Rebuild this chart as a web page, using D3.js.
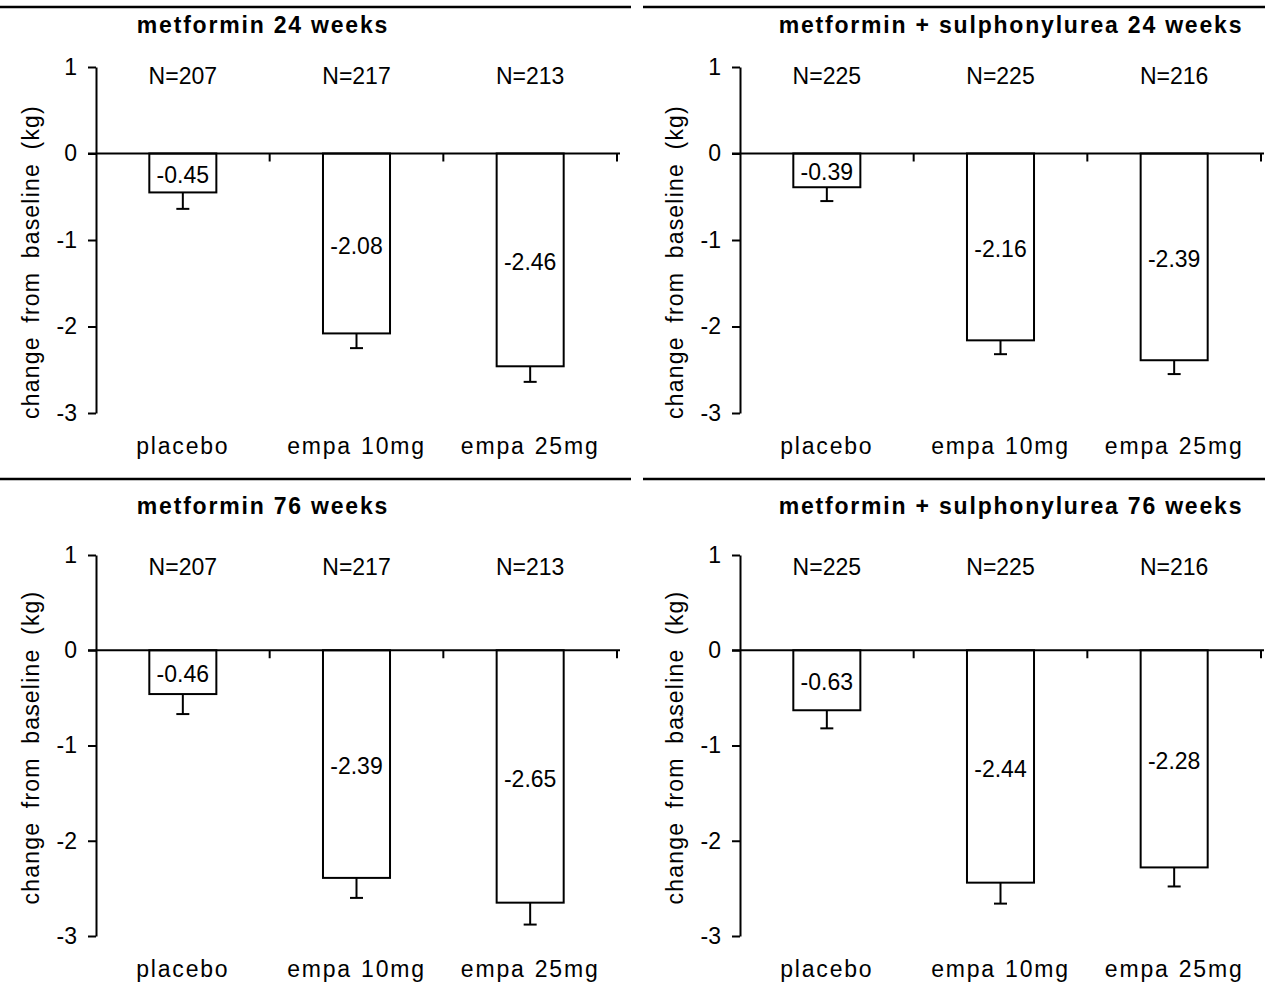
<!DOCTYPE html>
<html>
<head>
<meta charset="utf-8">
<script src="https://cdn.jsdelivr.net/npm/d3@7/dist/d3.min.js"></script>
<style>
  html, body { margin: 0; padding: 0; background: #fff; }
  svg { display: block; font-family: Arial, "Liberation Sans", sans-serif; }
</style>
</head>
<body>
<svg id="chart" width="1271" height="989"></svg>
<script>
// Weight change from baseline (kg), adjusted mean and standard error
const categories = ["placebo", "empa 10mg", "empa 25mg"];
const yTicks = [1, 0, -1, -2, -3];
const titles = [
  "metformin 24 weeks",
  "metformin + sulphonylurea 24 weeks",
  "metformin 76 weeks",
  "metformin + sulphonylurea 76 weeks"
];
const nMetformin = [207, 217, 213];
const nMetforminSu = [225, 225, 216];

const meanMet24 = [-0.45, -2.08, -2.46];
const seMet24 = [0.19, 0.17, 0.18];
const meanSu24 = [-0.39, -2.16, -2.39];
const seSu24 = [0.16, 0.16, 0.16];
const meanMet76 = [-0.46, -2.39, -2.65];
const seMet76 = [0.21, 0.21, 0.23];
const meanSu76 = [-0.63, -2.44, -2.28];
const seSu76 = [0.19, 0.22, 0.20];

const yLabel = "change from baseline (kg)";

// panel geometry
const panels = [
  { title: titles[0], n: nMetformin, mean: meanMet24, se: seMet24,
    axisX: 96, yTop: 67, yBottom: 413, titleX: 263, titleY: 33, nY: 84, labelY: 454,
    ruleY: 7, ruleX0: 0, ruleX1: 631, yLabelX: 33, yLabelShift: 22, star: false },
  { title: titles[1], n: nMetforminSu, mean: meanSu24, se: seSu24,
    axisX: 740, yTop: 67, yBottom: 413, titleX: 1011, titleY: 33, nY: 84, labelY: 454,
    ruleY: 7, ruleX0: 643, ruleX1: 1265, yLabelX: 677, yLabelShift: 22, star: false },
  { title: titles[2], n: nMetformin, mean: meanMet76, se: seMet76,
    axisX: 96, yTop: 555, yBottom: 936, titleX: 263, titleY: 514, nY: 575, labelY: 977,
    ruleY: 479, ruleX0: 0, ruleX1: 631, yLabelX: 33, yLabelShift: 2, star: true },
  { title: titles[3], n: nMetforminSu, mean: meanSu76, se: seSu76,
    axisX: 740, yTop: 555, yBottom: 936, titleX: 1011, titleY: 514, nY: 575, labelY: 977,
    ruleY: 479, ruleX0: 643, ruleX1: 1265, yLabelX: 677, yLabelShift: 2, star: true }
];

const svg = d3.select("#chart");
const plotWidth = 521;
const fontSize = 23;

panels.forEach(p => {
  const g = svg.append("g");

  const x = d3.scaleBand()
    .domain(categories)
    .range([p.axisX, p.axisX + plotWidth])
    .paddingInner(0.614)
    .paddingOuter(0.307);

  const y = d3.scaleLinear()
    .domain([1, -3])
    .range([p.yTop, p.yBottom]);

  // section rule and title
  g.append("line")
    .attr("x1", p.ruleX0).attr("x2", p.ruleX1)
    .attr("y1", p.ruleY).attr("y2", p.ruleY)
    .attr("stroke", "#000").attr("stroke-width", 2.5);

  g.append("text")
    .attr("x", p.titleX).attr("y", p.titleY)
    .attr("text-anchor", "middle")
    .attr("font-size", fontSize).attr("font-weight", "bold")
    .attr("letter-spacing", 1.8)
    .text(p.title);

  // y axis
  const yAxis = d3.axisLeft(y)
    .tickValues(yTicks)
    .tickFormat(d3.format("d"))
    .tickSize(8)
    .tickSizeOuter(0)
    .tickPadding(11);
  const ya = g.append("g")
    .attr("transform", `translate(${p.axisX},0)`)
    .call(yAxis);
  ya.select(".domain").attr("stroke-width", 2);
  ya.selectAll(".tick line").attr("stroke-width", 2);
  ya.selectAll(".tick text")
    .attr("font-size", fontSize)
    .attr("font-family", "Arial, 'Liberation Sans', sans-serif")
    .text(d => d < 0 ? "-" + Math.abs(d) : d);

  // y axis title
  g.append("text")
    .attr("transform", `translate(${p.yLabelX},${(p.yTop + p.yBottom) / 2 + p.yLabelShift}) rotate(-90)`)
    .attr("text-anchor", "middle")
    .attr("dominant-baseline", "middle")
    .attr("font-size", fontSize)
    .attr("letter-spacing", 1.2)
    .attr("word-spacing", 6)
    .text(yLabel);

  if (p.star) {
    g.append("text")
      .attr("x", p.yLabelX + 4).attr("y", y(-0.7) + 4)
      .attr("text-anchor", "middle")
      .attr("font-size", 12)
      .text("*");
  }

  // bars
  g.selectAll("rect.bar")
    .data(categories)
    .join("rect")
    .attr("class", "bar")
    .attr("x", d => x(d))
    .attr("width", x.bandwidth())
    .attr("y", y(0))
    .attr("height", (d, i) => y(p.mean[i]) - y(0))
    .attr("fill", "#fff")
    .attr("stroke", "#000")
    .attr("stroke-width", 2);

  // error bars (downward only)
  const capHalf = 6.5;
  categories.forEach((c, i) => {
    const cx = x(c) + x.bandwidth() / 2;
    const lo = p.mean[i] - p.se[i];
    g.append("line")
      .attr("x1", cx).attr("x2", cx)
      .attr("y1", y(p.mean[i])).attr("y2", y(lo))
      .attr("stroke", "#000").attr("stroke-width", 2);
    g.append("line")
      .attr("x1", cx - capHalf).attr("x2", cx + capHalf)
      .attr("y1", y(lo)).attr("y2", y(lo))
      .attr("stroke", "#000").attr("stroke-width", 2);
  });

  // zero axis with category boundary ticks
  g.append("line")
    .attr("x1", p.axisX - 8).attr("x2", p.axisX + plotWidth + 3)
    .attr("y1", y(0)).attr("y2", y(0))
    .attr("stroke", "#000").attr("stroke-width", 2);
  categories.forEach(c => {
    const bx = x(c) + x.bandwidth() / 2 + x.step() / 2;
    g.append("line")
      .attr("x1", bx).attr("x2", bx)
      .attr("y1", y(0)).attr("y2", y(0) + 8)
      .attr("stroke", "#000").attr("stroke-width", 2);
  });

  // bar value labels
  g.selectAll("text.val")
    .data(categories)
    .join("text")
    .attr("class", "val")
    .attr("x", d => x(d) + x.bandwidth() / 2)
    .attr("y", (d, i) => y(p.mean[i] / 2) + 4)
    .attr("text-anchor", "middle")
    .attr("dominant-baseline", "middle")
    .attr("font-size", fontSize)
    .text((d, i) => p.mean[i].toFixed(2));

  // group sizes
  g.selectAll("text.n")
    .data(categories)
    .join("text")
    .attr("class", "n")
    .attr("x", d => x(d) + x.bandwidth() / 2)
    .attr("y", p.nY)
    .attr("text-anchor", "middle")
    .attr("font-size", fontSize)
    .text((d, i) => "N=" + p.n[i]);

  // category labels
  g.selectAll("text.cat")
    .data(categories)
    .join("text")
    .attr("class", "cat")
    .attr("x", d => x(d) + x.bandwidth() / 2)
    .attr("y", p.labelY)
    .attr("text-anchor", "middle")
    .attr("font-size", fontSize)
    .attr("letter-spacing", 1.8)
    .attr("word-spacing", 1)
    .text(d => d);
});
</script>
</body>
</html>
